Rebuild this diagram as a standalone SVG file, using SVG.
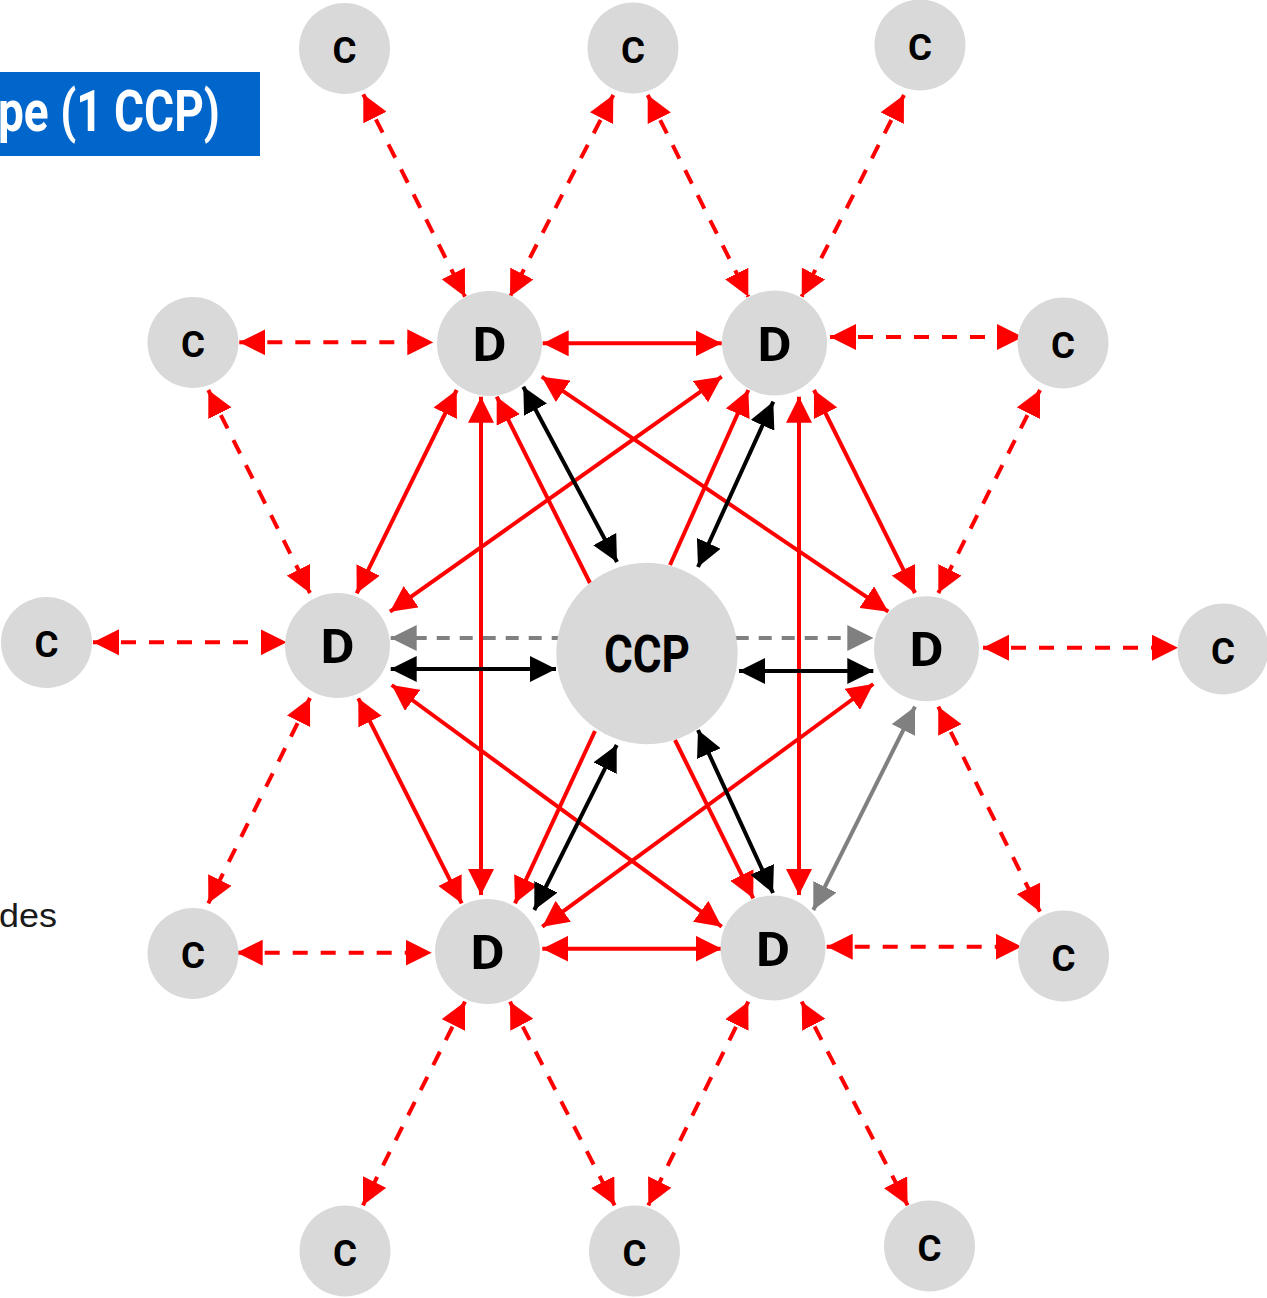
<svg xmlns="http://www.w3.org/2000/svg" width="1267" height="1298" viewBox="0 0 1267 1298">
<style>
.node{fill:#D9D9D9}
.lbl{font-family:"Liberation Sans Narrow","Roboto","Liberation Sans",sans-serif;font-weight:bold;fill:#000;text-anchor:middle}
.rd{stroke:#FF0000;stroke-width:4;stroke-dasharray:15 13;fill:none;marker-start:url(#ar);marker-end:url(#ar)}
.rs{stroke:#FF0000;stroke-width:4;fill:none;marker-start:url(#ar);marker-end:url(#ar)}
.r1{stroke:#FF0000;stroke-width:4;fill:none;marker-end:url(#ar)}
.bk{stroke:#000;stroke-width:4;fill:none;marker-start:url(#ab);marker-end:url(#ab)}
.gd{stroke:#808080;stroke-width:4;stroke-dasharray:13 10;fill:none;marker-start:url(#ag);marker-end:url(#ag)}
.gs{stroke:#808080;stroke-width:4;fill:none;marker-start:url(#ag);marker-end:url(#ag)}
</style>
<defs>
<marker id="ar" viewBox="0 0 26 26" refX="26" refY="13" markerWidth="26" markerHeight="26" markerUnits="userSpaceOnUse" orient="auto-start-reverse"><path d="M0,0 L26,13 L0,26 z" fill="#FF0000"/></marker>
<marker id="ab" viewBox="0 0 26 26" refX="26" refY="13" markerWidth="26" markerHeight="26" markerUnits="userSpaceOnUse" orient="auto-start-reverse"><path d="M0,0 L26,13 L0,26 z" fill="#000"/></marker>
<marker id="ag" viewBox="0 0 26 26" refX="26" refY="13" markerWidth="26" markerHeight="26" markerUnits="userSpaceOnUse" orient="auto-start-reverse"><path d="M0,0 L26,13 L0,26 z" fill="#808080"/></marker>
</defs>
<rect width="1267" height="1298" fill="#FFFFFF"/>
<g id="title">
<rect x="0" y="72" width="260" height="84" fill="#0066CC"/>
<text x="-2" y="131" font-family="Liberation Sans Narrow, Roboto, Liberation Sans, sans-serif" font-weight="bold" font-size="57" fill="#FFFFFF" textLength="222" lengthAdjust="spacingAndGlyphs">pe (1 CCP)</text>
</g>
<g id="side-text">
<text x="-1" y="927" font-family="Liberation Sans, Open Sans, sans-serif" font-size="34" fill="#1A1A1A" textLength="58" lengthAdjust="spacingAndGlyphs">des</text>
</g>
<g id="connectors">
<!-- dashed red C-D -->
<line class="rd" x1="363.3" y1="94.3" x2="465" y2="296.7"/>
<line class="rd" x1="613.3" y1="95" x2="510" y2="296.7"/>
<line class="rd" x1="647.7" y1="95" x2="748.3" y2="296.7"/>
<line class="rd" x1="904" y1="95" x2="801.7" y2="296.7"/>
<line class="rd" x1="239.3" y1="342.3" x2="433.3" y2="342.3"/>
<line class="rd" x1="208.3" y1="390" x2="310" y2="593"/>
<line class="rd" x1="830" y1="337" x2="1023" y2="337"/>
<line class="rd" x1="1040" y1="390" x2="938.3" y2="593"/>
<line class="rd" x1="93" y1="642.3" x2="286.7" y2="642.3"/>
<line class="rd" x1="983" y1="647.7" x2="1178" y2="647.7"/>
<line class="rd" x1="310" y1="698" x2="208.3" y2="903.3"/>
<line class="rd" x1="236.7" y1="952.7" x2="431.7" y2="952.7"/>
<line class="rd" x1="826.7" y1="946.7" x2="1021.7" y2="946.7"/>
<line class="rd" x1="938.3" y1="706.7" x2="1040" y2="911.7"/>
<line class="rd" x1="465" y1="1001.7" x2="363" y2="1205.3"/>
<line class="rd" x1="510" y1="1001.7" x2="614.6" y2="1205.3"/>
<line class="rd" x1="748.3" y1="1001.7" x2="648.3" y2="1205.3"/>
<line class="rd" x1="801.7" y1="1001.7" x2="907.6" y2="1205.3"/>
<!-- gray dashed D3-D4 (behind CCP) -->
<line class="gd" x1="390.7" y1="638" x2="873.3" y2="638"/>
<!-- solid red D-D -->
<line class="rs" x1="542.7" y1="343.3" x2="721.7" y2="343.3"/>
<line class="rs" x1="542.3" y1="948.7" x2="721.7" y2="948.7"/>
<line class="rs" x1="456.7" y1="390" x2="356.7" y2="593.3"/>
<line class="rs" x1="814" y1="390" x2="915" y2="593"/>
<line class="rs" x1="358.3" y1="698.3" x2="461.7" y2="903.3"/>
<line class="rs" x1="481" y1="396.7" x2="481" y2="895"/>
<line class="rs" x1="799" y1="396.7" x2="799" y2="895"/>
<line class="rs" x1="721.7" y1="376.7" x2="390" y2="611.7"/>
<line class="rs" x1="541.7" y1="376.7" x2="888.3" y2="611.7"/>
<line class="rs" x1="391.7" y1="685" x2="721.7" y2="926.7"/>
<line class="rs" x1="873.3" y1="684" x2="542.3" y2="926.7"/>
<!-- single red CCP to D -->
<line class="r1" x1="590" y1="583" x2="496.7" y2="396.7"/>
<line class="r1" x1="670" y1="565" x2="748.3" y2="390"/>
<line class="r1" x1="595" y1="731" x2="515" y2="903.3"/>
<line class="r1" x1="675" y1="740" x2="753.3" y2="898.3"/>
<!-- black CCP-D -->
<line class="bk" x1="523.3" y1="386.7" x2="617" y2="562"/>
<line class="bk" x1="773.3" y1="401.7" x2="698" y2="567"/>
<line class="bk" x1="390.7" y1="669" x2="556" y2="669"/>
<line class="bk" x1="739" y1="671" x2="873.3" y2="671"/>
<line class="bk" x1="616.7" y1="745" x2="534.3" y2="910"/>
<line class="bk" x1="698" y1="730" x2="773" y2="893"/>
<!-- gray solid D4-D6 -->
<line class="gs" x1="915" y1="706.7" x2="813.3" y2="910"/>
</g>
<g id="CCP"><circle class="node" cx="647" cy="653.5" r="90.7"/><text class="lbl" x="647" y="672" font-size="51" textLength="86" lengthAdjust="spacingAndGlyphs">CCP</text></g>
<g id="D1"><circle class="node" cx="489.5" cy="343.5" r="52.5"/><text class="lbl" x="489.5" y="361" font-size="48" textLength="34" lengthAdjust="spacingAndGlyphs">D</text></g>
<g id="D2"><circle class="node" cx="774.5" cy="343" r="52.5"/><text class="lbl" x="774.5" y="360.5" font-size="48" textLength="34" lengthAdjust="spacingAndGlyphs">D</text></g>
<g id="D3"><circle class="node" cx="337.5" cy="645.5" r="52.5"/><text class="lbl" x="337.5" y="663" font-size="48" textLength="34" lengthAdjust="spacingAndGlyphs">D</text></g>
<g id="D4"><circle class="node" cx="926.5" cy="648.8" r="52.5"/><text class="lbl" x="926.5" y="666.3" font-size="48" textLength="34" lengthAdjust="spacingAndGlyphs">D</text></g>
<g id="D5"><circle class="node" cx="487.5" cy="951.5" r="52.5"/><text class="lbl" x="487.5" y="969" font-size="48" textLength="34" lengthAdjust="spacingAndGlyphs">D</text></g>
<g id="D6"><circle class="node" cx="773" cy="948" r="52.5"/><text class="lbl" x="773" y="965.5" font-size="48" textLength="34" lengthAdjust="spacingAndGlyphs">D</text></g>
<g id="C1"><circle class="node" cx="344.5" cy="48.5" r="45.5"/><text class="lbl" x="344.5" y="63" font-size="37" textLength="24" lengthAdjust="spacingAndGlyphs">C</text></g>
<g id="C2"><circle class="node" cx="633" cy="48" r="45.5"/><text class="lbl" x="633" y="62.5" font-size="37" textLength="24" lengthAdjust="spacingAndGlyphs">C</text></g>
<g id="C3"><circle class="node" cx="920" cy="45" r="45.5"/><text class="lbl" x="920" y="59.5" font-size="37" textLength="24" lengthAdjust="spacingAndGlyphs">C</text></g>
<g id="C4"><circle class="node" cx="193" cy="342.5" r="45.5"/><text class="lbl" x="193" y="357" font-size="37" textLength="24" lengthAdjust="spacingAndGlyphs">C</text></g>
<g id="C5"><circle class="node" cx="1063" cy="343" r="45.5"/><text class="lbl" x="1063" y="357.5" font-size="37" textLength="24" lengthAdjust="spacingAndGlyphs">C</text></g>
<g id="C6"><circle class="node" cx="46.5" cy="642.5" r="45.5"/><text class="lbl" x="46.5" y="657" font-size="37" textLength="24" lengthAdjust="spacingAndGlyphs">C</text></g>
<g id="C7"><circle class="node" cx="1223" cy="649" r="45.5"/><text class="lbl" x="1223" y="663.5" font-size="37" textLength="24" lengthAdjust="spacingAndGlyphs">C</text></g>
<g id="C8"><circle class="node" cx="193" cy="953.5" r="45.5"/><text class="lbl" x="193" y="968" font-size="37" textLength="24" lengthAdjust="spacingAndGlyphs">C</text></g>
<g id="C9"><circle class="node" cx="1063.5" cy="956" r="45.5"/><text class="lbl" x="1063.5" y="970.5" font-size="37" textLength="24" lengthAdjust="spacingAndGlyphs">C</text></g>
<g id="C10"><circle class="node" cx="345" cy="1251" r="45.5"/><text class="lbl" x="345" y="1265.5" font-size="37" textLength="24" lengthAdjust="spacingAndGlyphs">C</text></g>
<g id="C11"><circle class="node" cx="634.5" cy="1251" r="45.5"/><text class="lbl" x="634.5" y="1265.5" font-size="37" textLength="24" lengthAdjust="spacingAndGlyphs">C</text></g>
<g id="C12"><circle class="node" cx="929.5" cy="1246" r="45.5"/><text class="lbl" x="929.5" y="1260.5" font-size="37" textLength="24" lengthAdjust="spacingAndGlyphs">C</text></g>
</svg>
